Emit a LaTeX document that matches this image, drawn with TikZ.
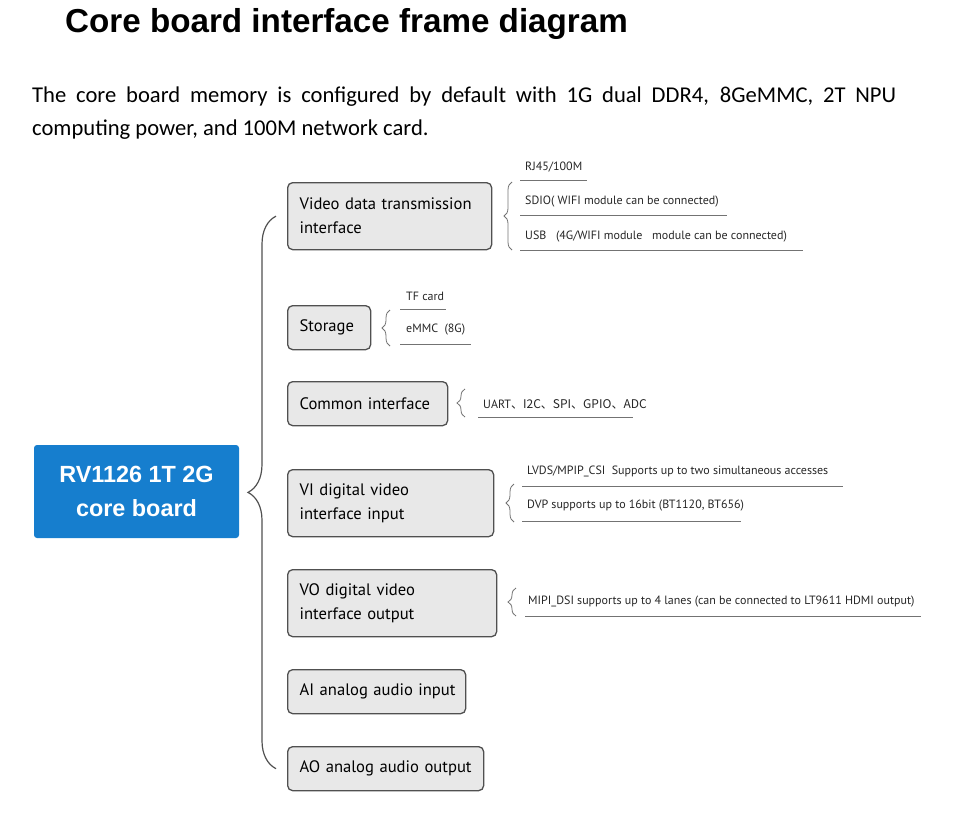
\documentclass[tikz,border=0pt]{standalone}
\usepackage{fontspec}
\setmainfont{Carlito}
\newfontfamily\titlefont{Liberation Sans}
\newfontfamily\diagfont{PT Sans}
\newfontfamily\cjk{Noto Sans CJK SC}
\usetikzlibrary{calc,positioning,decorations.pathreplacing}
\definecolor{boardblue}{RGB}{22,126,206}
\definecolor{boxgray}{RGB}{232,232,232}
\definecolor{edgegray}{RGB}{80,80,80}
\hyphenpenalty=10000

\begin{document}
\begin{tikzpicture}[x=1pt,y=-1pt,
  ifbox/.style={draw=edgegray,line width=1.3pt,fill=boxgray,rounded corners=5pt,anchor=north west,
    inner xsep=12pt,inner ysep=0pt,align=left,font=\diagfont\fontsize{16.6}{24}\selectfont},
  coreboard/.style={fill=boardblue,rounded corners=3pt,minimum width=205pt,minimum height=93pt,
    align=center,text=white,font=\titlefont\bfseries\fontsize{23.4}{34}\selectfont},
  mainbrace/.style={draw=edgegray,line width=1.2pt,decorate,decoration={brace,amplitude=28pt}},
  subbrace/.style={draw=edgegray!80,line width=0.8pt,decorate,decoration={brace,amplitude=8pt}},
  sublabel/.style={anchor=west,inner sep=0pt,font=\diagfont\fontsize{12}{14}\selectfont,text=black!85},
  subline/.style={draw=black!55,line width=0.8pt}]
  \useasboundingbox (0,0) rectangle (968,823);

  \node[anchor=base west,inner sep=0pt,font=\titlefont\bfseries\fontsize{33.2}{40}\selectfont] (title) at (65,32)
    {Core board interface frame diagram};
  \node[anchor=base west,inner sep=0pt] (intro) at (32,102) {\parbox[t]{864pt}{\fontsize{22.6}{33}\selectfont
    The core board memory is configured by default with 1G dual DDR4, 8GeMMC, 2T NPU\linebreak
    computing power, and 100M network card.}};

  \node[coreboard] (core) at (136.5,491.5) {RV1126 1T 2G\\core board};

  \foreach \name/\y/\w/\h/\txt in {vdt/182/204/67/{Video data transmission\\interface},
      sto/305/83/44/Storage, com/381/160/44/\mbox{Common interface},
      vii/469/206/67/{VI digital video\\interface input}, voo/569/209/67/{VO digital video\\interface output},
      aai/669/178/44/\mbox{AI analog audio input}, aao/746/196/44/\mbox{AO analog audio output}}{
    \pgfmathsetmacro\tw{\w-24}
    \node[ifbox,text width=\tw pt,minimum height=\h pt] (\name) at (287,\y) {\txt};
  }

  \draw[mainbrace] ([xshift=-11pt]aao.west) -- ([xshift=-11pt]vdt.west);

  \foreach \x/\ya/\yb in {512/182/250, 390/310/346, 465/389/417, 514/484/522, 516/588/616}{
    \draw[subbrace] (\x,\yb) -- (\x,\ya);
  }

  \foreach \x/\y/\xa/\xb/\yl/\txt [count=\i] in {
      525/167/520/587/180/{RJ45/100M},
      525/202/520/727/215/{SDIO( WIFI module can be connected)},
      525/237/520/803/250/{USB\ \ \ (4G/WIFI module\ \ \ module can be connected)},
      406/296/400/446/309/{TF card},
      406/330/400/471/344/{eMMC\ \ (8G)},
      483/404/478/633/417/{UART\cjk{、}I2C\cjk{、}SPI\cjk{、}GPIO\cjk{、}ADC},
      527/471/522/843/486/{LVDS/MPIP\_CSI\ \ Supports up to two simultaneous accesses},
      527/506/522/741/521/{DVP supports up to 16bit (BT1120, BT656)},
      528/602/525/921/616/{MIPI\_DSI supports up to 4 lanes (can be connected to LT9611 HDMI output)}}{
    \node[sublabel] (lbl\i) at (\x,\y) {\txt};
    \draw[subline] (\xa,\yl) -- (\xb,\yl);
  }
\end{tikzpicture}
\end{document}
